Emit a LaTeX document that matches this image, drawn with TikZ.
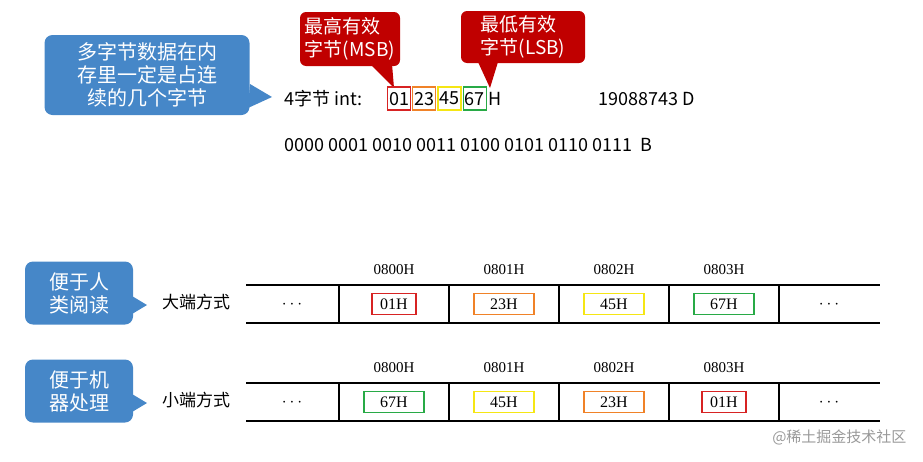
\documentclass[tikz,border=0pt]{standalone}
\usepackage{fontspec}
\setmainfont{Liberation Serif}
\newfontfamily\cjk{Noto Sans CJK SC}
\newfontfamily\sans{Liberation Sans}
\usetikzlibrary{positioning}
\definecolor{bubble}{RGB}{70,135,200}
\definecolor{tag}{RGB}{192,0,0}
\definecolor{borange}{RGB}{240,130,40}
\definecolor{byellow}{RGB}{245,230,20}
\definecolor{bgreen}{RGB}{40,170,70}
\definecolor{bred}{RGB}{215,35,35}
\begin{document}
\begin{tikzpicture}[x=1pt,y=-1pt,
    blue/.style={fill=bubble, rounded corners=8pt, text=white, align=center, font=\cjk\fontsize{20}{23}\selectfont, inner sep=3pt},
    red/.style={fill=tag, rounded corners=6pt, text=white, align=left, font=\cjk\fontsize{19}{23}\selectfont, inner sep=3pt},
    val/.style={draw, line width=1.2pt, minimum width=50pt, minimum height=21pt, inner sep=1pt, font=\fontsize{16}{18}\selectfont},
    hex/.style={draw, line width=1.2pt, inner sep=1.5pt, minimum height=23pt},
    addr/.style={font=\fontsize{15}{17}\selectfont},
  ]
  \useasboundingbox (0,0) rectangle (923,461);
  % top callouts
  \node[blue, minimum width=205pt, minimum height=80pt] (note) at (147,75) {多字节数据在内\\存里一定是占连\\续的几个字节};
  \coordinate (notetip) at (272,97);
  \fill[bubble] (250,84) -- (notetip) -- (248,108) -- cycle;
  \node[red, minimum width=100pt, minimum height=54pt] (msb) at (350,39) {最高有效\\字节(MSB)};
  \node[red, minimum width=124pt, minimum height=52pt] (lsb) at (523,37) {最低有效\\字节(LSB)};
  \coordinate (msbtip) at (394,88);
  \coordinate (lsbtip) at (490,88);
  \fill[tag] (370,64) -- (msbtip) -- (392,64) -- cycle;
  \fill[tag] (478,62) -- (lsbtip) -- (498,62) -- cycle;
  % number line
  \begin{scope}[font=\cjk\fontsize{18}{21}\selectfont]
    \node[anchor=base west, inner sep=0] (lead) at (284,105) {4字节 int:};
    \node[hex, draw=bred, anchor=base west] (b1) at (387,105) {01};
    \node[hex, draw=borange, right=1pt of b1] (b2) {23};
    \node[hex, draw=byellow, right=1pt of b2] (b3) {45};
    \node[hex, draw=bgreen, right=1pt of b3] (b4) {67};
    \node[right=1pt of b4, inner sep=1pt] (hsuf) {H};
    \node[anchor=base west, inner sep=0] (dec) at (598,105) {19088743 D};
    \node[anchor=base west, inner sep=0] (bin) at (284,151) {0000 0001 0010 0011 0100 0101 0110 0111~~B};
  \end{scope}
  % memory rows
  \foreach \y/\lab/\ys/\vals in {285/大端方式/305/{01H,23H,45H,67H},
                                 383/小端方式/403/{67H,45H,23H,01H}}{
    \draw[line width=1.2pt] (246,\y) -- (880,\y) (246,\y+38) -- (880,\y+38);
    \foreach \x in {339,449,559,669,779}
      \draw[line width=1.2pt] (\x,\y) -- (\x,\y+38);
    \node[font=\fontsize{16}{18}\selectfont] at (292,\y+20) {$\cdots$};
    \node[font=\fontsize{16}{18}\selectfont] at (829,\y+20) {$\cdots$};
    \node[font=\cjk\fontsize{17}{19}\selectfont] at (196,\ys-3) {\lab};
    \foreach \v [count=\i] in \vals {
      \pgfmathsetmacro\cx{394+110*(\i-1)}
      \node[addr] at (\cx,\y-15) {080\the\numexpr\i-1\relax H};
    }
  }
  \foreach \v/\c [count=\i] in {01H/bred,23H/borange,45H/byellow,67H/bgreen}
    \node[val, draw=\c, minimum width={\ifnum\i=1 44pt\else 60pt\fi}] (big\i) at (394+110*\i-110,304) {\v};
  \foreach \v/\c [count=\i] in {67H/bgreen,45H/byellow,23H/borange,01H/bred}
    \node[val, draw=\c, minimum width={\ifnum\i=4 44pt\else 60pt\fi}] (small\i) at (394+110*\i-110,402) {\v};
  % side callouts
  \node[blue, minimum width=108pt, minimum height=63pt] (read) at (79,293) {便于人\\类阅读};
  \node[blue, minimum width=108pt, minimum height=63pt] (mach) at (79,391) {便于机\\器处理};
  \coordinate (readtip) at (147,305);
  \coordinate (machtip) at (147,403);
  \fill[bubble] (132,296) -- (readtip) -- (132,314) -- cycle;
  \fill[bubble] (132,394) -- (machtip) -- (132,412) -- cycle;
  \node[anchor=east, text=black!40, font=\cjk\fontsize{15}{17}\selectfont] (mark) at (910,437) {@稀土掘金技术社区};
\end{tikzpicture}
\end{document}
